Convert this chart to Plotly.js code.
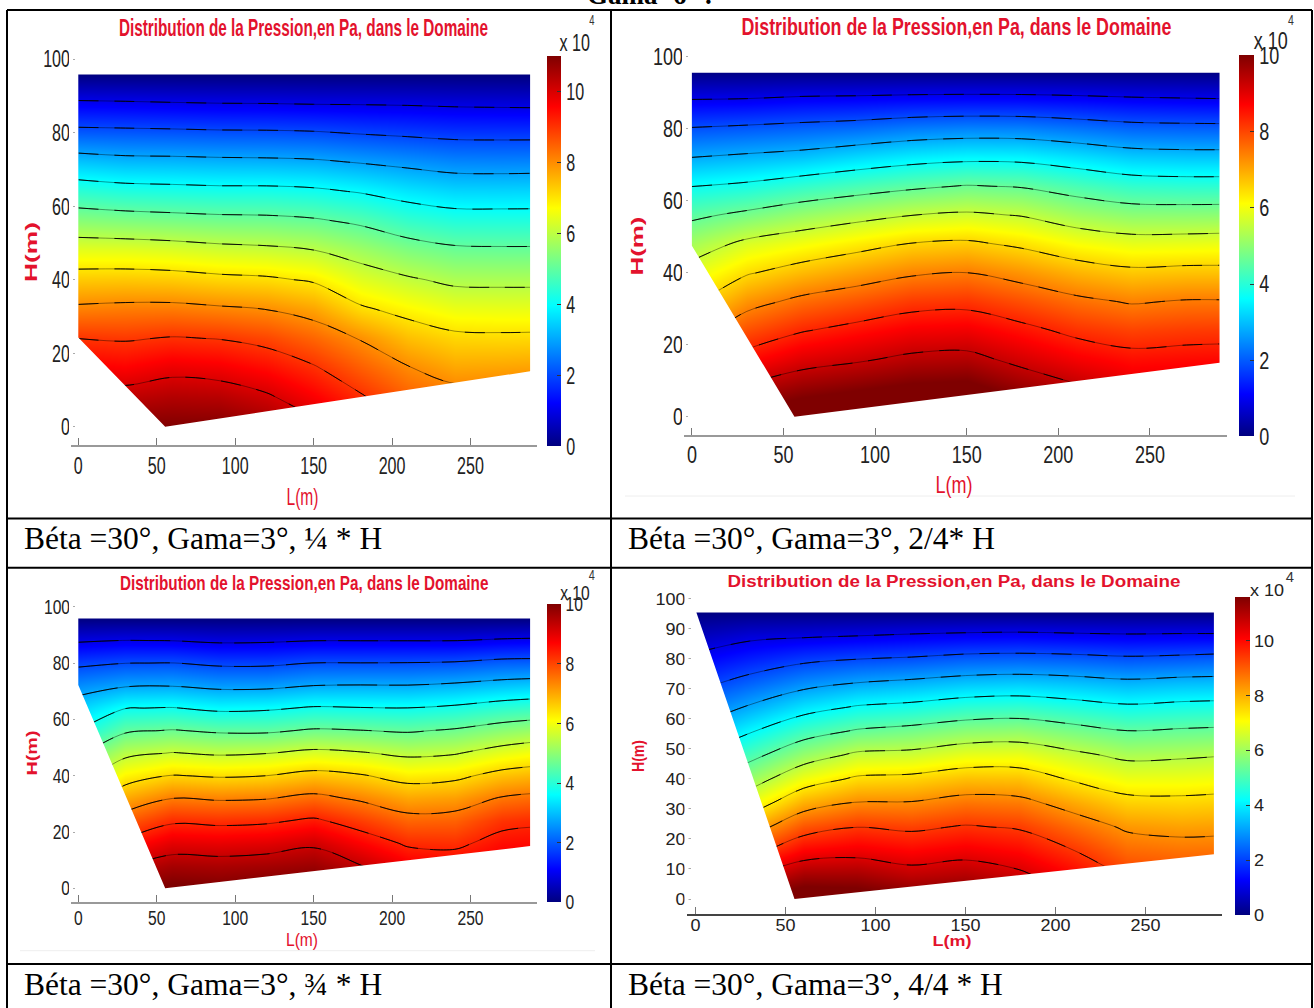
<!DOCTYPE html>
<html><head><meta charset="utf-8">
<script src="https://cdn.plot.ly/plotly-3.0.1.min.js"></script>
<style>html,body{margin:0;padding:0;background:#fff;overflow:hidden}</style>
</head><body><div id="chart" style="width:1314px;height:1008px"></div>
<script>
// Station positions along L (m) and heights H (m) of the fields
const stationsL = [0,30,60,90,120,150,180,210,240,270,288];
const heightsH = [0,8,16,24,32,40,48,56,64,72,80,88,96];
// Field in units of the contour interval: one row per height, one column per station
const field1 = [
[11.04,11.0,11.0,11.0,10.7,10.17,9.56,8.97,8.78,8.84,8.92],
[10.36,10.28,10.43,10.38,10.1,9.62,9.08,8.51,8.26,8.31,8.35],
[9.67,9.59,9.8,9.71,9.46,9.07,8.53,8.04,7.71,7.74,7.77],
[9.0,8.94,9.05,8.98,8.79,8.43,7.96,7.43,7.16,7.13,7.14],
[8.13,8.19,8.2,8.1,7.99,7.73,7.1,6.78,6.52,6.49,6.49],
[7.32,7.34,7.3,7.18,7.11,6.92,6.4,6.09,5.85,5.83,5.83],
[6.43,6.41,6.34,6.22,6.15,6.01,5.68,5.34,5.13,5.1,5.1],
[5.45,5.36,5.29,5.22,5.19,5.09,4.87,4.53,4.34,4.33,4.33],
[4.43,4.3,4.25,4.2,4.2,4.13,3.95,3.7,3.53,3.52,3.53],
[3.35,3.23,3.21,3.17,3.15,3.1,2.96,2.82,2.68,2.66,2.67],
[2.2,2.17,2.14,2.1,2.09,2.05,1.95,1.87,1.79,1.78,1.78],
[1.1,1.07,1.03,1.0,0.99,0.96,0.95,0.93,0.89,0.87,0.86],
[0,0,0,0,0,0,0,0,0,0,0]];
const field2 = [
[10.8,10.97,11.25,11.45,11.6,11.66,11.1,10.74,10.18,10.2,10.25],
[9.66,10.12,10.49,10.68,10.87,10.93,10.47,10.09,9.69,9.72,9.75],
[8.56,9.26,9.71,9.91,10.14,10.2,9.81,9.46,9.22,9.27,9.29],
[7.65,8.5,8.95,9.22,9.46,9.51,9.19,8.83,8.64,8.72,8.74],
[6.88,7.74,8.18,8.44,8.73,8.79,8.49,8.16,7.94,8.05,8.05],
[6.28,6.93,7.31,7.61,7.9,8.0,7.72,7.38,7.16,7.22,7.22],
[5.61,6.17,6.45,6.74,7.03,7.12,6.87,6.51,6.31,6.33,6.36],
[4.85,5.16,5.49,5.75,5.99,6.11,5.96,5.59,5.38,5.37,5.38],
[3.99,4.14,4.41,4.65,4.87,5.04,4.95,4.66,4.41,4.35,4.35],
[3.0,3.13,3.26,3.5,3.71,3.82,3.8,3.59,3.35,3.29,3.29],
[2.04,2.13,2.23,2.33,2.5,2.58,2.56,2.41,2.25,2.21,2.2],
[1.01,1.04,1.13,1.16,1.21,1.23,1.22,1.17,1.1,1.06,1.04],
[0,0,0,0,0,0,0,0,0,0,0]];
const field3 = [
[10.21,10.65,10.88,10.8,10.88,10.96,10.56,10.04,9.89,9.93,9.92],
[9.24,9.96,10.32,10.27,10.34,10.44,10.02,9.48,9.38,9.58,9.6],
[8.27,9.16,9.67,9.62,9.69,9.89,9.38,8.91,8.86,9.24,9.27],
[7.31,8.34,8.89,8.83,8.89,9.11,8.69,8.25,8.29,8.8,8.89],
[6.43,7.49,7.99,7.91,7.96,8.19,7.89,7.52,7.61,8.06,8.16],
[5.63,6.66,7.03,6.93,7.0,7.24,7.06,6.73,6.83,7.24,7.36],
[4.86,5.82,6.03,5.91,5.98,6.18,6.06,5.85,5.95,6.31,6.46],
[4.01,4.9,5.04,4.9,4.89,5.08,5.02,4.93,5.08,5.36,5.49],
[3.39,3.98,4.03,3.85,3.9,4.07,4.03,4.01,4.13,4.35,4.44],
[2.68,2.94,2.97,2.83,2.84,3.0,3.03,3.02,3.12,3.28,3.35],
[1.85,1.99,2.01,1.87,1.87,2.01,2.01,2.02,2.06,2.2,2.22],
[0.93,1.01,0.99,0.9,0.92,0.99,0.99,0.99,0.99,1.08,1.11],
[0,0,0,0,0,0,0,0,0,0,0]];
const field4 = [
[10.45,11.2,11.5,11.4,11.1,11.2,10.72,10.13,9.38,9.28,9.28],
[9.25,9.9,10.6,10.6,10.3,10.43,10.13,9.58,8.9,8.77,8.77],
[8.05,8.74,9.6,9.76,9.57,9.74,9.53,9.02,8.41,8.3,8.31],
[6.85,7.6,8.66,8.99,8.87,9.06,8.93,8.4,7.89,7.78,7.81],
[5.72,6.53,7.63,8.05,8.05,8.29,8.21,7.71,7.24,7.19,7.23],
[4.81,5.61,6.6,7.12,7.2,7.44,7.41,6.92,6.55,6.56,6.61],
[3.94,4.75,5.6,6.14,6.21,6.49,6.52,6.16,5.83,5.89,5.95],
[3.14,3.92,4.64,5.07,5.24,5.47,5.54,5.27,5.01,5.09,5.13],
[2.45,3.07,3.68,4.06,4.2,4.43,4.5,4.31,4.11,4.21,4.25],
[1.77,2.27,2.74,3.01,3.16,3.34,3.41,3.31,3.16,3.26,3.28],
[1.15,1.52,1.83,1.99,2.08,2.23,2.27,2.22,2.12,2.18,2.24],
[0.55,0.82,0.89,0.96,1.04,1.1,1.13,1.08,1.04,1.06,1.06],
[0,0,0,0,0,0,0,0,0,0,0]];
// Contour interval of each panel (x 10^4 Pa), estimated from the colours under the lines
const contourStep = [1.0,0.93,0.93,1.05];
// Domain outlines (m)
const domainL1 = [0,288,288,55.4,0,0],   domainH1 = [95.8,95.8,15.1,0,24.3,95.8];
const domainL2 = [0,288,288,56,0,0],     domainH2 = [95.5,95.5,15,0,47.5,95.5];
const domainL3 = [0,288,288,55.4,0,0],   domainH3 = [95.8,95.8,15,0,72.2,95.8];
const domainL4 = [0.5,288,288,55,0.5],   domainH4 = [95.5,95.5,14.9,0,95.5];
// Tick labels
const lTicks = [0,50,100,150,200,250];
const hTicks = [0,20,40,60,80,100];
const hTicksFine = [0,10,20,30,40,50,60,70,80,90,100];
const barTicks = [0,2,4,6,8,10];
const captions = ['Béta =30°, Gama=3°, ¼ * H','Béta =30°, Gama=3°, 2/4* H','Béta =30°, Gama=3°, ¾ * H','Béta =30°, Gama=3°, 4/4 * H'];
const panelTitle = 'Distribution de la Pression,en Pa, dans le Domaine';

const W=1314,H=1008;
const RED='#e3122d';
const JET=[[0,'rgb(0,0,127)'],[0.11,'rgb(0,0,255)'],[0.36,'rgb(0,255,255)'],[0.61,'rgb(255,255,0)'],[0.87,'rgb(255,0,0)'],[1,'rgb(127,0,0)']];
const SANS='"Liberation Sans",sans-serif';
const panels=[
 {z:field1,dl:domainL1,dh:domainH1,box:[71,537,51,445.4],xr:[-4.65,292.4],yr:[-5.06,102.2],zmax:11,fs:24,wf:0.67,lift:-2,yt:hTicks,cb:[546.5,56.4,390,13.5],xpow:[574.5,43,592,20],tfs:24,tlen:369,tx:303.5,ty:27,
  L:[302.5,494.6,24,32],H:[31,252,16,60]},
 {z:field2,dl:domainL2,dh:domainH2,box:[684,1226.5,50,435],xr:[-4.3,291.8],yr:[-5.05,101.8],zmax:10,fs:24,wf:0.75,lift:-2,yt:hTicks,cb:[1238.7,55.4,381,14.8],xpow:[1270,41,1291,20],tfs:24,tlen:430,tx:956,ty:26,
  L:[954,482,24,37],H:[637,246,17,59]},
 {z:field3,dl:domainL3,dh:domainH3,box:[71,537,600,902.3],xr:[-4.65,292.4],yr:[-4.97,102.4],zmax:10,fs:20,wf:0.78,lift:-3,yt:hTicks,cb:[546.5,604.3,298.4,13.5],xpow:[574.5,593,592,575],tfs:20.5,tlen:368.5,tx:304,ty:582,
  L:[302,938,19,32],H:[32,753,15,45]},
 {z:field4,dl:domainL4,dh:domainH4,box:[686.5,1222,592,914],xr:[-5,292.5],yr:[-5,102.3],zmax:11.58,fs:17,wf:1.06,lift:-5,yt:hTicksFine,cb:[1234.6,597.3,317.7,15.4],xpow:[1267,590,1290,577],tfs:16,tlen:453,tx:954,ty:581,
  L:[952,940,14,39],H:[638,756,17,32]}
];
const data=[],annotations=[],layout={width:W,height:H,margin:{l:0,r:0,t:0,b:0,pad:0},paper_bgcolor:'#fff',plot_bgcolor:'#fff',showlegend:false};
const ln=(x0,y0,x1,y1,c,w)=>({type:'line',xref:'paper',yref:'paper',x0:x0/W,x1:x1/W,y0:1-y0/H,y1:1-y1/H,line:{color:c||'#000',width:w||2},layer:'above'});
const edgeShapes=[];
panels.forEach((p,i)=>{
 const n=i===0?'':String(i+1), xa='x'+n, ya='y'+n;
 const [l,r,t,b]=p.box;
 const step=contourStep[i];
 const z=p.z.map(row=>row.map(v=>v*step));
 const axisCol=i===3?'#444':'#999';
 layout['xaxis'+n]={domain:[l/W,r/W],range:p.xr,anchor:ya,showgrid:false,zeroline:false,showline:true,linecolor:axisCol,linewidth:1.5,ticks:'inside',ticklen:7,tickcolor:'#777',tickwidth:1,ticklabelstandoff:p.lift,tickmode:'array',tickvals:lTicks,ticktext:lTicks.map(String),tickfont:{family:SANS,size:p.fs,color:'#222'},
  title:{text:'L(m)',font:{family:SANS,size:p.L[2],color:RED,weight:i===3?'bold':'normal'},standoff:2}};
 layout['yaxis'+n]={domain:[1-b/H,1-t/H],range:p.yr,anchor:xa,showgrid:false,zeroline:false,showline:false,ticks:'inside',ticklen:4,tickcolor:'#aaa',tickwidth:1,tickmode:'array',tickvals:p.yt,ticktext:p.yt.map(String),tickfont:{family:SANS,size:p.fs,color:'#222'},
  title:{text:'H(m)',font:{family:SANS,size:p.H[2],color:RED,weight:'bold'},standoff:4}};
 data.push({type:'heatmap',x:stationsL,y:heightsH,z:z,xaxis:xa,yaxis:ya,zsmooth:'best',colorscale:JET,zmin:0,zmax:p.zmax,hoverinfo:'skip',
  colorbar:{x:p.cb[0]/W,xanchor:'left',y:1-p.cb[1]/H,yanchor:'top',len:p.cb[2],lenmode:'pixels',thickness:p.cb[3],thicknessmode:'pixels',xpad:0,ypad:0,outlinewidth:0,ticks:'inside',ticklen:4,tickcolor:'#333',tickmode:'array',tickvals:barTicks,ticktext:barTicks.map(String),tickfont:{family:SANS,size:p.fs,color:'#222'}}});
 const contours={coloring:'none',start:step,end:step*10.01,size:step};
 data.push({type:'contour',x:stationsL,y:heightsH,z:z,xaxis:xa,yaxis:ya,showscale:false,hoverinfo:'skip',autocontour:false,contours:contours,line:{color:'rgba(0,0,0,0.5)',width:0.8,smoothing:1,dash:'solid'}});
 data.push({type:'contour',x:stationsL,y:heightsH,z:z,xaxis:xa,yaxis:ya,showscale:false,hoverinfo:'skip',autocontour:false,contours:contours,line:{color:'rgba(0,0,0,0.9)',width:1,smoothing:1,dash:i===2?'40px,12px':'20px,16px'}});
 // white surround so only the domain polygon of the field shows
 const ox=[p.xr[0]-1,p.xr[1]+1,p.xr[1]+1,p.xr[0]-1,p.xr[0]-1];
 const oy=[p.yr[1]+0.5,p.yr[1]+0.5,p.yr[0]-0.5,p.yr[0]-0.5,p.yr[1]+0.5];
 data.push({type:'scatter',mode:'lines',cliponaxis:false,x:ox.concat(p.dl.slice().reverse()),y:oy.concat(p.dh.slice().reverse()),fill:'toself',fillcolor:'#fff',line:{width:0},xaxis:xa,yaxis:ya,hoverinfo:'skip',showlegend:false});
 edgeShapes.push(ln(l,t-2,l,b-1,'#fff',4),ln(r,t-2,r,b-1,'#fff',4));
 annotations.push({xref:'paper',yref:'paper',x:p.tx/W,y:1-p.ty/H,text:panelTitle,showarrow:false,font:{family:SANS,size:p.tfs,color:RED,weight:'bold'},xanchor:'center',yanchor:'middle'});
 annotations.push({xref:'paper',yref:'paper',x:p.xpow[0]/W,y:1-p.xpow[1]/H,text:'x 10',showarrow:false,font:{family:SANS,size:p.fs,color:'#222'},xanchor:'center',yanchor:'middle'});
 annotations.push({xref:'paper',yref:'paper',x:p.xpow[2]/W,y:1-p.xpow[3]/H,text:'4',showarrow:false,font:{family:SANS,size:14,color:'#333'},xanchor:'center',yanchor:'middle'});
});
const capY=[538,538,984,984], capX=[22,626,22,626];
captions.forEach((c,i)=>annotations.push({xref:'paper',yref:'paper',x:capX[i]/W,y:1-capY[i]/H,text:c,showarrow:false,xanchor:'left',yanchor:'middle',font:{family:'"Liberation Serif",serif',size:31.5,color:'#000'}}));
annotations.push({xref:'paper',yref:'paper',x:650/W,y:1+5/H,text:'Gama=6° :',showarrow:false,xanchor:'center',yanchor:'middle',font:{family:'"Liberation Serif",serif',size:27,color:'#000',weight:'bold'}});
layout.annotations=annotations;
layout.shapes=edgeShapes.concat([ln(7,10,1312,10),ln(7,518.6,1312,518.6),ln(7,567.7,1312,567.7),ln(7,964,1312,964),ln(7,10,7,1008),ln(611,10,611,1008),ln(1312,10,1312,1008),ln(625,496,1295,496,'#eee',1),ln(20,950.7,595,950.7,'#eee',1)]);
Plotly.newPlot('chart',data,layout,{displayModeBar:false,staticPlot:true}).then(()=>{
 // the reference's labels are anisotropically stretched: fit each real text to its measured length
 const fit=(el,len)=>{el.setAttribute('textLength',len);el.setAttribute('lengthAdjust','spacingAndGlyphs');};
 const root=document.getElementById('chart');
 const panelAt=(x,y)=>(y<540?0:2)+(x<611?0:1);
 const tickSel=['','2','3','4'].map(n=>'.x'+n+'tick text,.y'+n+'tick text').join(',')+',.colorbar text';
 root.querySelectorAll(tickSel).forEach(el=>{
  const r=el.getBoundingClientRect();
  fit(el,el.getComputedTextLength()*panels[panelAt(r.left+r.width/2,r.top+r.height/2)].wf);
 });
 root.querySelectorAll('text.annotation-text').forEach(el=>{
  const r=el.getBoundingClientRect(), t=el.textContent;
  if(r.top<5||t.indexOf('Béta')===0)return;
  const p=panels[panelAt(r.left+r.width/2,r.top+r.height/2)];
  if(t===panelTitle)fit(el,p.tlen);
  else fit(el,el.getComputedTextLength()*p.wf);
 });
 panels.forEach((p,i)=>{
  const n=i===0?'':String(i+1);
  const lt=root.querySelector('.x'+n+'title'), ht=root.querySelector('.y'+n+'title');
  if(lt){const y=p.L[1]+0.28*p.L[2];lt.setAttribute('x',p.L[0]);lt.setAttribute('y',y);lt.removeAttribute('transform');fit(lt,p.L[3]);}
  if(ht){const x=p.H[0]+0.36*p.H[2];ht.setAttribute('x',x);ht.setAttribute('y',p.H[1]);ht.setAttribute('transform','rotate(-90,'+x+','+p.H[1]+')');fit(ht,p.H[3]);}
 });
});
</script></body></html>
